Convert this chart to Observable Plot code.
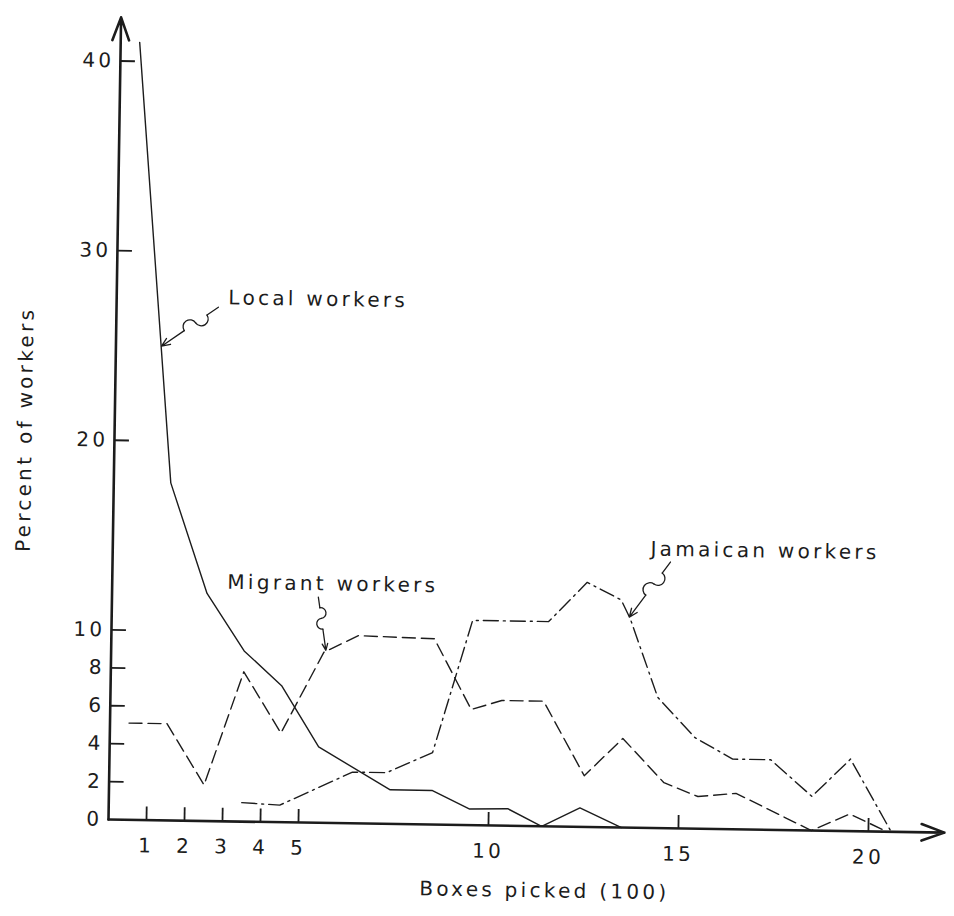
<!DOCTYPE html>
<html><head><meta charset="utf-8">
<script src="https://cdn.jsdelivr.net/npm/d3@7"></script>
<script src="https://cdn.jsdelivr.net/npm/@observablehq/plot@0.6"></script>
<style>
html,body{margin:0;padding:0;background:#fff;}
#chart svg{display:block;transform:rotate(0.9deg);transform-origin:108px 819px;}
</style></head><body><div id="chart"></div>
<script>
// ---- data ----
const xTicks = [1, 2, 3, 4, 5, 10, 15, 20];
const yTicks = [0, 2, 4, 6, 8, 10, 20, 30, 40];

const localX = [0.5, 1.5, 2.5, 3.5, 4.5, 5.5, 7.4, 8.5, 9.5, 10.5, 11.4, 12.4, 13.5];
const localY = [41, 17.8, 12, 9, 7.2, 4, 1.8, 1.8, 0.85, 0.9, 0, 1.0, 0];

const migrantX = [0.5, 1.5, 2.5, 3.5, 4.5, 5.6, 6.5, 8.5, 9.5, 10.3, 11.4, 12.5, 13.5, 14.6, 15.5, 16.5, 18.5, 19.5, 20.5];
const migrantY = [5.1, 5.1, 1.9, 7.9, 4.7, 9.0, 9.9, 9.8, 6.1, 6.6, 6.6, 2.7, 4.7, 2.4, 1.7, 1.9, 0, 0.9, 0];

const jamaicanX = [3.5, 4.5, 6.4, 7.3, 8.5, 9.5, 11.5, 12.5, 13.4, 13.65, 14.4, 15.4, 16.4, 17.4, 18.5, 19.5, 20.6];
const jamaicanY = [1.0, 0.9, 2.7, 2.7, 3.8, 10.8, 10.8, 12.9, 12.0, 11.0, 6.9, 4.8, 3.7, 3.7, 1.8, 3.8, 0];

const labelNames = ["Local workers", "Migrant workers", "Jamaican workers"];
const labelX = [2.94, 3.03, 14.15];
const labelY = [27.6, 12.6, 14.7];
const leadFromX = [2.68, 5.43, 14.68];
const leadFromY = [27.1, 11.9, 14.04];
const leadToX = [1.2, 5.65, 13.62];
const leadToY = [25, 9.1, 11.1];

const xTitle = "Boxes picked (100)";
const yTitle = "Percent of workers";
const xMax = 22, yMax = 42.5, yArrowTop = 42.3;

// ---- tables ----
const toRows = (xs, ys) => xs.map((x, i) => ({x, y: ys[i]}));
const local = toRows(localX, localY);
const migrant = toRows(migrantX, migrantY);
const jamaican = toRows(jamaicanX, jamaicanY);

const labels = labelNames.map((t, i) => ({t, x: labelX[i], y: labelY[i]}));
const lerp = (a, b, k) => a + (b - a) * k;
const leaders = labelNames.map((t, i) => {
  const f = [leadFromX[i], leadFromY[i]], e = [leadToX[i], leadToY[i]];
  const p = k => [lerp(f[0], e[0], k), lerp(f[1], e[1], k)];
  return {f, p1: p(0.2), p2: p(0.4), p3: p(0.6), e};
});
const seg = (a, b) => leaders.map(L => ({x1: L[a][0], y1: L[a][1], x2: L[b][0], y2: L[b][1]}));

const axes = [
  {x1: 0, y1: 0, x2: 0, y2: yArrowTop},
  {x1: 0, y1: 0, x2: xMax, y2: 0}
];

const ink = "#1c1c1c";

const chart = Plot.plot({
  width: 954,
  height: 916,
  marginLeft: 108,
  marginRight: 10,
  marginTop: 13,
  marginBottom: 97,
  x: {domain: [0, xMax], label: null},
  y: {domain: [0, yMax], label: null},
  style: {fontFamily: "'DejaVu Sans', sans-serif", fontSize: "20px", letterSpacing: "3.3px", color: ink, background: "#fff"},
  marks: [
    Plot.axisX({ticks: xTicks, tickSize: 13, dy: -13, tickFormat: () => "", strokeWidth: 1.8, label: null}),
    Plot.axisX({ticks: xTicks, tickSize: 0, tickPadding: 18, fontSize: 20, label: null}),
    Plot.axisY({ticks: yTicks.filter(d => d > 0), tickSize: 15, dx: 15, tickFormat: () => "", strokeWidth: 1.8, label: null}),
    Plot.axisY({ticks: yTicks, tickSize: 0, tickPadding: 6, fontSize: 20, label: null}),
    Plot.arrow(axes, {x1: "x1", y1: "y1", x2: "x2", y2: "y2", stroke: ink, strokeWidth: 2.6, headLength: 14, headAngle: 40}),
    Plot.line(local, {x: "x", y: "y", stroke: ink, strokeWidth: 1.4}),
    Plot.line(migrant, {x: "x", y: "y", stroke: ink, strokeWidth: 1.4, strokeDasharray: "13,6"}),
    Plot.line(jamaican, {x: "x", y: "y", stroke: ink, strokeWidth: 1.4, strokeDasharray: "15,5,2,5"}),
    Plot.arrow(seg("f", "p1"), {x1: "x1", y1: "y1", x2: "x2", y2: "y2", stroke: ink, strokeWidth: 1.3, headLength: 0}),
    Plot.arrow(seg("p1", "p2"), {x1: "x1", y1: "y1", x2: "x2", y2: "y2", stroke: ink, strokeWidth: 1.3, headLength: 0, bend: 90}),
    Plot.arrow(seg("p2", "p3"), {x1: "x1", y1: "y1", x2: "x2", y2: "y2", stroke: ink, strokeWidth: 1.3, headLength: 0, bend: -90}),
    Plot.arrow(seg("p3", "e"), {x1: "x1", y1: "y1", x2: "x2", y2: "y2", stroke: ink, strokeWidth: 1.3, headLength: 11, headAngle: 45}),
    Plot.text(labels, {x: "x", y: "y", text: "t", textAnchor: "start", fontSize: 20, fill: ink}),
    Plot.text([xTitle], {x: 11.5, y: -3.4, text: d => d, fontSize: 20, fill: ink}),
    Plot.text([yTitle], {x: -2.35, y: 20.5, text: d => d, rotate: -90, fontSize: 20, fill: ink})
  ]
});
document.getElementById("chart").appendChild(chart);
</script>
</body></html>
